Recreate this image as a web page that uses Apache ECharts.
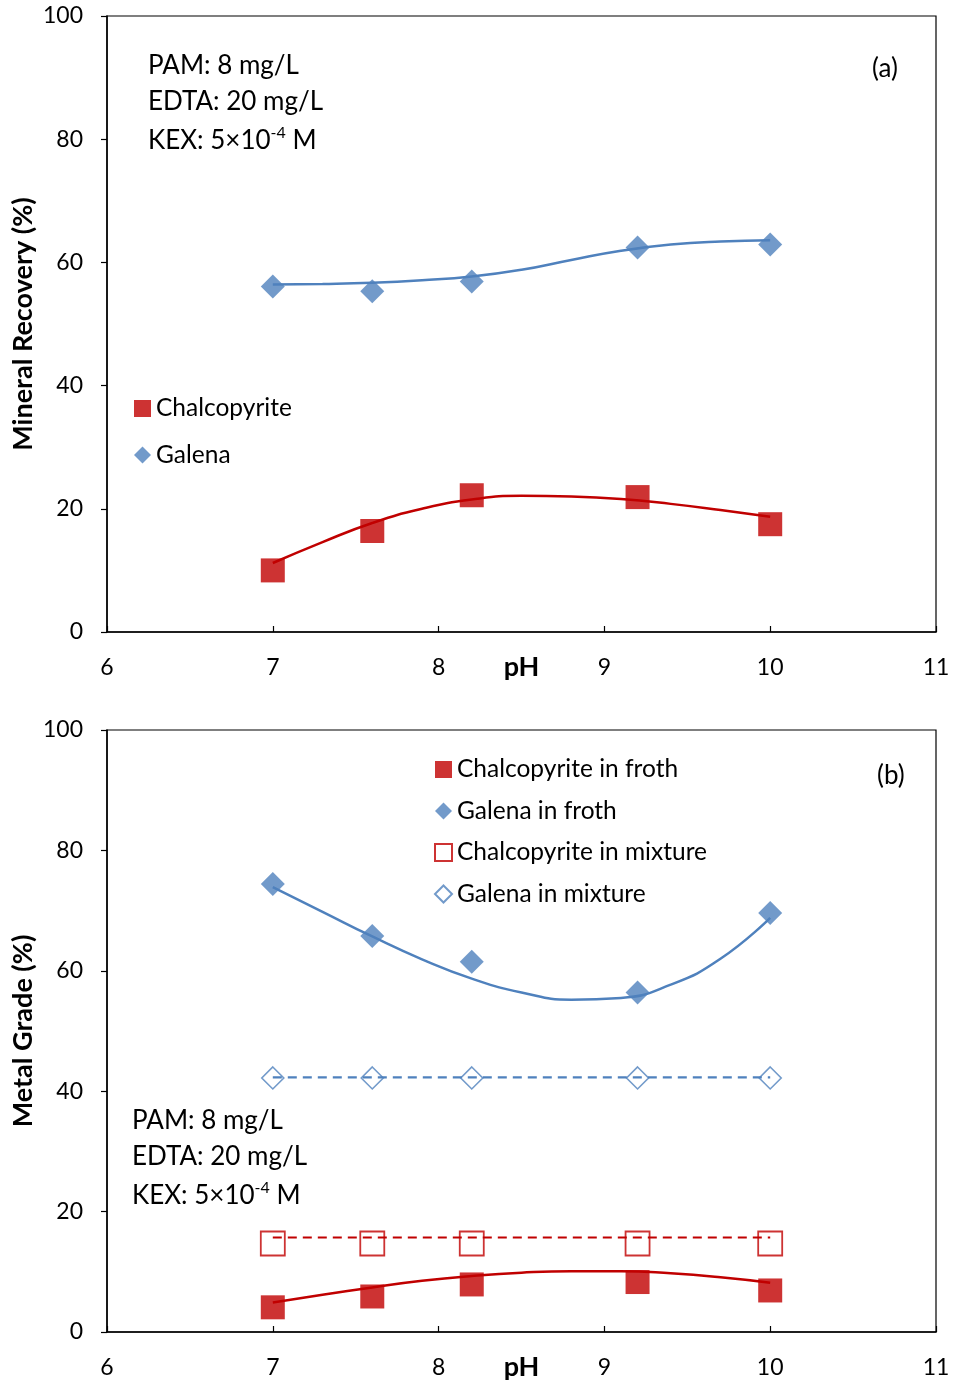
<!DOCTYPE html>
<html>
<head>
<meta charset="utf-8">
<script src="https://cdn.jsdelivr.net/npm/echarts@6/dist/echarts.min.js"></script>
<style>
  html, body { margin: 0; padding: 0; background: #fff; }
  #chart { width: 953px; height: 1384px; }
</style>
</head>
<body>
<div id="chart"></div>
<script>
// pH values of the flotation tests
const pH = [7, 7.6, 8.2, 9.2, 10];

// (a) mineral recovery, %
const recChalcopyrite = [10.0, 16.4, 22.2, 21.9, 17.5];
const recGalena = [56.1, 55.3, 56.9, 62.4, 62.9];

// (b) metal grade, %
const gradeCpFroth = [4.1, 5.9, 7.9, 8.3, 6.9];
const gradeGnFroth = [74.4, 65.8, 61.5, 56.4, 69.6];
const gradeCpMixture = [14.7, 14.7, 14.7, 14.7, 14.7];
const gradeGnMixture = [42.2, 42.2, 42.2, 42.2, 42.2];

// trend curves, sampled along pH
const trendPH = [7, 7.3, 7.6, 7.9, 8.2, 8.5, 8.8, 9.1, 9.4, 9.7, 10];
const trendRecChalcopyrite = [11.2, 14.6, 17.7, 20.0, 21.5, 22.1, 22.0, 21.6, 20.8, 19.8, 18.7];
const trendRecGalena = [56.4, 56.5, 56.7, 57.1, 57.7, 58.8, 60.4, 61.9, 62.9, 63.4, 63.6];
const trendCpFroth = [4.9, 6.2, 7.4, 8.5, 9.3, 9.85, 10.1, 10.1, 9.75, 9.1, 8.2];
const trendGnFroth = [73.9, 69.8, 65.7, 61.9, 58.7, 56.4, 55.2, 55.5, 57.7, 62.0, 68.8];

// reference levels of the feed mixture
const levelPH = [7, 10];
const levelCpMixture = [15.7, 15.7];
const levelGnMixture = [42.3, 42.3];

// axis tick labels
const xTicks = [6, 7, 8, 9, 10, 11];
const yTicks = [0, 20, 40, 60, 80, 100];

const RED = '#C00000';
const BLUE = '#4F81BD';
const FONT = 'Lato';

const pairs = (xs, ys) => xs.map((x, i) => [x, ys[i]]);

const chart = echarts.init(document.getElementById('chart'), null, { renderer: 'canvas' });

const gridBase = top => ({
  left: 107, right: 17, top, show: true,
  borderColor: '#000', borderWidth: 1.2, backgroundColor: 'transparent',
  outerBoundsMode: 'none', containLabel: false
});

const xAxisBase = idx => ({
  type: 'value', gridIndex: idx,
  min: xTicks[0], max: xTicks[xTicks.length - 1], interval: 1,
  name: 'pH', nameLocation: 'middle', nameGap: 22, nameMoveOverlap: false,
  nameTextStyle: { fontFamily: FONT, fontSize: 27, fontWeight: 'bold', color: '#000' },
  axisLine: { show: true, onZero: false, lineStyle: { color: '#000', width: 1.5 } },
  axisTick: { show: true, inside: true, length: 6, lineStyle: { color: '#000', width: 1.2 } },
  axisLabel: { fontFamily: FONT, fontSize: 23, color: '#000', margin: 24 },
  splitLine: { show: false }
});

const yAxisBase = (idx, title) => ({
  type: 'value', gridIndex: idx,
  min: yTicks[0], max: yTicks[yTicks.length - 1], interval: 20,
  name: title, nameLocation: 'middle', nameGap: 70, nameRotate: 90, nameMoveOverlap: false,
  nameTextStyle: { fontFamily: FONT, fontSize: 27, fontWeight: 'bold', color: '#000' },
  axisLine: { show: true, lineStyle: { color: '#000', width: 1.5 } },
  axisTick: { show: true, inside: false, length: 6, lineStyle: { color: '#000', width: 1.2 } },
  axisLabel: { fontFamily: FONT, fontSize: 23, color: '#000', margin: 24 },
  splitLine: { show: false }
});

const trendLine = (idx, ys, color) => ({
  type: 'line', xAxisIndex: idx, yAxisIndex: idx, data: pairs(trendPH, ys),
  smooth: 0.5, showSymbol: false, symbol: 'none',
  lineStyle: { color, width: 2.5 }, silent: true, z: 3
});

const levelLine = (idx, ys, color) => ({
  type: 'line', xAxisIndex: idx, yAxisIndex: idx,
  data: pairs(levelPH, ys), showSymbol: false, symbol: 'none',
  lineStyle: { color, width: 2.2, type: [9, 6] }, silent: true, z: 2
});

const markers = (idx, name, ys, symbol, size, style) => ({
  type: 'scatter', xAxisIndex: idx, yAxisIndex: idx, name, data: pairs(pH, ys),
  symbol, symbolSize: size, itemStyle: style, z: 5
});

const annot = (x, y) => ({
  type: 'group', left: x, top: y,
  children: [
    { type: 'text', left: 0, top: 0, style: { text: 'PAM: 8 mg/L', font: `26px ${FONT}`, fill: '#000' } },
    { type: 'text', left: 0, top: 36, style: { text: 'EDTA: 20 mg/L', font: `26px ${FONT}`, fill: '#000' } },
    { type: 'text', left: 0, top: 72, style: {
        text: '{n|KEX: 5\u00D710}{s|-4}{n| M}',
        rich: {
          n: { fontFamily: FONT, fontSize: 26, fill: '#000', color: '#000', verticalAlign: 'bottom' },
          s: { fontFamily: FONT, fontSize: 16, fill: '#000', color: '#000', verticalAlign: 'top', padding: [0, 0, 13, 0] }
        }
      } }
  ]
});

const legendText = { fontFamily: FONT, fontSize: 24.5, color: '#000' };

const option = {
  backgroundColor: '#fff',
  animation: false,
  grid: [
    Object.assign(gridBase(16), { height: 616 }),
    Object.assign(gridBase(730), { height: 602 })
  ],
  xAxis: [xAxisBase(0), xAxisBase(1)],
  yAxis: [yAxisBase(0, 'Mineral Recovery (%)'), yAxisBase(1, 'Metal Grade (%)')],
  legend: [
    {
      data: ['Chalcopyrite', 'Galena'], orient: 'vertical', left: 134, top: 396, padding: 0,
      itemWidth: 17, itemHeight: 17, itemGap: 21.5, textStyle: legendText, selectedMode: false
    },
    {
      data: ['Chalcopyrite in froth', 'Galena in froth', 'Chalcopyrite in mixture', 'Galena in mixture'],
      orient: 'vertical', left: 434, top: 757, padding: 0,
      itemWidth: 17, itemHeight: 17, itemGap: 16.5, textStyle: legendText, selectedMode: false
    }
  ],
  graphic: [
    annot(148, 53),
    annot(132, 1108),
    { type: 'text', left: 872, top: 56, style: { text: '(a)', font: `26px ${FONT}`, fill: '#000' } },
    { type: 'text', left: 877, top: 763, style: { text: '(b)', font: `26px ${FONT}`, fill: '#000' } }
  ],
  series: [
    trendLine(0, trendRecChalcopyrite, RED),
    trendLine(0, trendRecGalena, BLUE),
    markers(0, 'Chalcopyrite', recChalcopyrite, 'rect', 24, { color: RED }),
    markers(0, 'Galena', recGalena, 'diamond', 24, { color: BLUE }),

    trendLine(1, trendCpFroth, RED),
    trendLine(1, trendGnFroth, BLUE),
    levelLine(1, levelCpMixture, RED),
    levelLine(1, levelGnMixture, BLUE),
    markers(1, 'Chalcopyrite in froth', gradeCpFroth, 'rect', 24, { color: RED }),
    markers(1, 'Galena in froth', gradeGnFroth, 'diamond', 24, { color: BLUE }),
    markers(1, 'Chalcopyrite in mixture', gradeCpMixture, 'rect', 24,
      { color: 'rgba(255,255,255,0)', borderColor: RED, borderWidth: 1.8 }),
    markers(1, 'Galena in mixture', gradeGnMixture, 'diamond', 22,
      { color: 'rgba(255,255,255,0)', borderColor: BLUE, borderWidth: 1.6 })
  ]
};

chart.setOption(option);
</script>
</body>
</html>
